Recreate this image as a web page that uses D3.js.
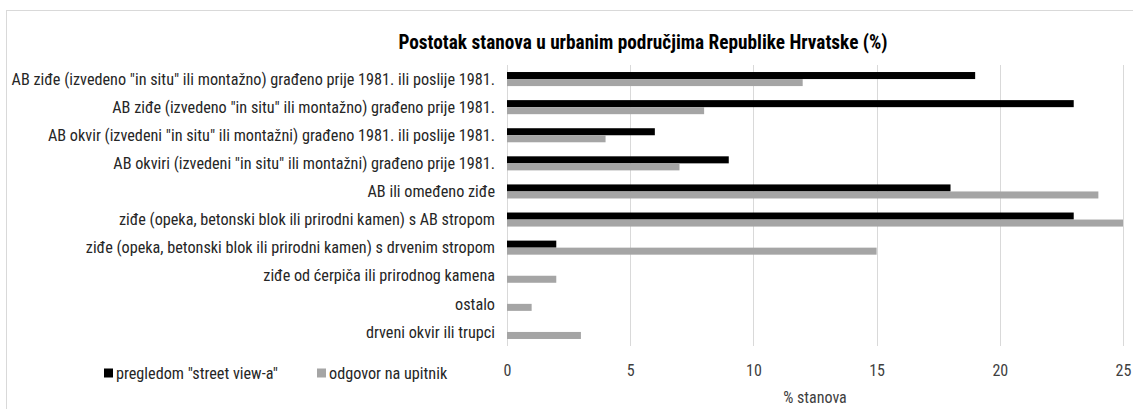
<!DOCTYPE html>
<html>
<head>
<meta charset="utf-8">
<script src="https://cdn.jsdelivr.net/npm/d3@7"></script>
<style>
  html, body { margin: 0; padding: 0; background: #fff; }
  svg { display: block; }
  text { font-family: "Liberation Sans Narrow", "Roboto Condensed", "DejaVu Sans Condensed", sans-serif; fill: #262626; }
</style>
</head>
<body>
<svg id="chart" width="1133" height="409"></svg>
<script>
// Building types (top to bottom)
const categories = [
  'AB ziđe (izvedeno "in situ" ili montažno) građeno prije 1981. ili poslije 1981.',
  'AB ziđe (izvedeno "in situ" ili montažno) građeno prije 1981.',
  'AB okvir (izvedeni "in situ" ili montažni) građeno 1981. ili poslije 1981.',
  'AB okviri (izvedeni "in situ" ili montažni) građeno prije 1981.',
  'AB ili omeđeno ziđe',
  'ziđe (opeka, betonski blok ili prirodni kamen) s AB stropom',
  'ziđe (opeka, betonski blok ili prirodni kamen) s drvenim stropom',
  'ziđe od ćerpiča ili prirodnog kamena',
  'ostalo',
  'drveni okvir ili trupci'
];
const seriesNames = ['pregledom "street view-a"', 'odgovor na upitnik'];
const streetView = [19, 23, 6, 9, 18, 23, 2, 0, 0, 0];
const questionnaire = [12, 8, 4, 7, 24, 25, 15, 2, 1, 3];
const xTicks = [0, 5, 10, 15, 20, 25];
const title = 'Postotak stanova u urbanim područjima Republike Hrvatske (%)';
const xLabel = '% stanova';
const colors = ['#000000', '#a5a5a5'];

const svg = d3.select('#chart');

// chart frame
svg.append('rect')
  .attr('x', 6.5).attr('y', 10.5)
  .attr('width', 1140).attr('height', 420)
  .attr('fill', 'none').attr('stroke', '#d9d9d9').attr('stroke-width', 1);

const plot = { left: 507, right: 1123, top: 65, bottom: 346 };

const x = d3.scaleLinear().domain([0, 25]).range([plot.left, plot.right]);
const y = d3.scaleBand().domain(categories).range([plot.top, plot.bottom]).paddingInner(0.5).paddingOuter(0.25);
const ySub = d3.scaleBand().domain([0, 1]).range([0, y.bandwidth()]);

// gridlines
svg.append('g')
  .selectAll('line').data(xTicks).join('line')
  .attr('x1', d => Math.round(x(d)) + 0.5).attr('x2', d => Math.round(x(d)) + 0.5)
  .attr('y1', plot.top).attr('y2', plot.bottom)
  .attr('stroke', '#d9d9d9').attr('stroke-width', 1);

// x axis tick labels
const xAxis = d3.axisBottom(x).tickValues(xTicks).tickSize(0).tickPadding(0);
const gx = svg.append('g').attr('transform', `translate(0, ${plot.bottom + 19})`).call(xAxis);
gx.select('.domain').remove();
gx.selectAll('text').attr('font-size', 16).style('fill', '#404040')
  .style('font-family', '"Liberation Sans Narrow", "Roboto Condensed", sans-serif');

// bars
const rows = categories.map((c, i) => ({ c, vals: [streetView[i], questionnaire[i]] }));
const groups = svg.append('g').selectAll('g').data(rows).join('g')
  .attr('transform', d => `translate(0, ${y(d.c)})`);
groups.selectAll('rect').data(d => d.vals.map((v, k) => ({ v, k }))).join('rect')
  .attr('x', x(0))
  .attr('y', d => ySub(d.k))
  .attr('width', d => x(d.v) - x(0))
  .attr('height', ySub.bandwidth())
  .attr('fill', d => colors[d.k]);

// category labels
svg.append('g').selectAll('text').data(categories).join('text')
  .attr('x', 495)
  .attr('y', d => y(d) + y.bandwidth() / 2)
  .attr('dy', '0.35em')
  .attr('text-anchor', 'end')
  .attr('font-size', 16.2)
  .style('fill', '#262626')
  .text(d => d);

// title
svg.append('text')
  .attr('x', 643).attr('y', 42).attr('dy', '0.35em')
  .attr('text-anchor', 'middle')
  .attr('font-size', 19.3).attr('font-weight', 'bold')
  .style('fill', '#000')
  .text(title);

// x axis title
svg.append('text')
  .attr('x', (plot.left + plot.right) / 2).attr('y', 397).attr('dy', '0.35em')
  .attr('text-anchor', 'middle').attr('font-size', 16)
  .style('fill', '#404040')
  .text(xLabel);

// legend
const legendX = [104, 317];
const legend = svg.append('g').selectAll('g').data(seriesNames).join('g')
  .attr('transform', (d, i) => `translate(${legendX[i]}, 373)`);
legend.append('rect').attr('x', 0).attr('y', -4.5).attr('width', 9).attr('height', 9)
  .attr('fill', (d, i) => colors[i]);
legend.append('text').attr('x', 12).attr('dy', '0.35em').attr('font-size', 16.2)
  .style('fill', '#262626')
  .text(d => d);
</script>
</body>
</html>
